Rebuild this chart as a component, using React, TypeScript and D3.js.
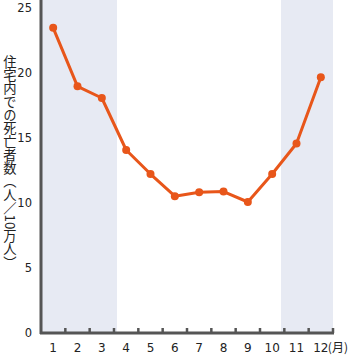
import React from "react";
import * as d3 from "d3";

const months = [1, 2, 3, 4, 5, 6, 7, 8, 9, 10, 11, 12];
const deaths = [23.4, 18.9, 18.0, 14.0, 12.15, 10.45, 10.75, 10.8, 10.0, 12.15, 14.5, 19.6];
const yTicks = [0, 5, 10, 15, 20, 25];
const shadedRanges: [number, number][] = [[0.5, 3.6], [10.4, 12.5]];
const yTitle = "住宅内での死亡者数（人／10万人）";
const monthUnit = "(月)";

export default function App() {
  const W = 359, H = 356;
  const x = d3.scaleLinear().domain([0.5, 12.5]).range([41, 333]);
  const y = d3.scaleLinear().domain([0, 25]).range([332, 7]);
  const line = d3.line<number>().x((_, i) => x(months[i])).y((d) => y(d));
  const boundaries = d3.range(1.5, 12.6, 1);
  const font = "'DejaVu Sans', sans-serif";
  return (
    <svg width={W} height={H} style={{ position: "absolute", left: 0, top: 0 }}>
      <defs>
        <filter id="noise" x="0" y="0" width="1" height="1" filterUnits="objectBoundingBox">
          <feTurbulence type="fractalNoise" baseFrequency="1.0" numOctaves="2" seed="3" result="t" />
          <feColorMatrix in="t" type="matrix"
            values="0.55 0.15 0 0 0.45  0.5 0.15 0 0 0.5  0.1 0 0.1 0 0.8  0 0 0 0 1" />
        </filter>
      </defs>
      <rect x={0} y={0} width={W} height={H} fill="#fff" />
      {shadedRanges.map(([a, b], i) => (
        <rect key={i} x={x(a)} y={0} width={x(b) - x(a)} height={333} fill="#ccd5e6" filter="url(#noise)" />
      ))}
      <line x1={41} y1={0} x2={41} y2={334} stroke="#555" strokeWidth={3} />
      <line x1={40} y1={333} x2={334} y2={333} stroke="#555" strokeWidth={3} />
      {boundaries.map((b, i) => (
        <line key={i} x1={x(b)} x2={x(b)} y1={333} y2={328} stroke="#555" strokeWidth={2.5} />
      ))}
      {yTicks.map((t) => (
        <text key={t} x={32} y={y(t) + 4.5} textAnchor="end" fontSize={11.5} fontFamily={font} fill="#222">{t}</text>
      ))}
      {months.map((m) => (
        <text key={m} x={x(m)} y={352} textAnchor="middle" fontSize={12} fontFamily={font} fill="#222">{m}</text>
      ))}
      <text x={x(12) + 7} y={352} textAnchor="start" fontSize={12} fontFamily="'Noto Sans CJK JP', sans-serif" fill="#222">{monthUnit}</text>
      <text x={10} y={55} fontSize={13.3} fontFamily="'Noto Sans CJK JP', sans-serif" fill="#222"
        style={{ writingMode: "vertical-rl" } as any}>{yTitle}</text>
      <path d={line(deaths) || ""} fill="none" stroke="#e8561a" strokeWidth={3} strokeLinejoin="round" />
      {deaths.map((d, i) => (
        <circle key={i} cx={x(months[i])} cy={y(d)} r={4} fill="#e8561a" />
      ))}
    </svg>
  );
}
